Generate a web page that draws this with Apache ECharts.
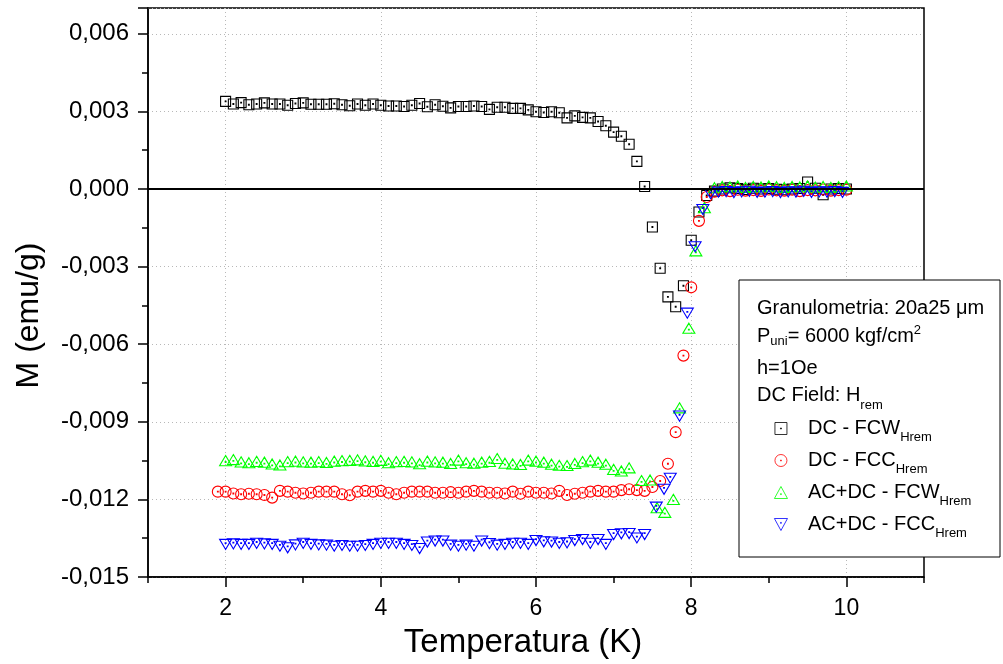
<!DOCTYPE html>
<html><head><meta charset="utf-8">
<script src="https://cdn.jsdelivr.net/npm/echarts@6/dist/echarts.min.js"></script>
<style>html,body{margin:0;padding:0;background:#fff}#c{width:1003px;height:664px}</style>
</head><body><div id="c"></div>
<script>
// ---------- DATA ----------
const tDcFcw = [2.0,2.1,2.2,2.3,2.4,2.5,2.6,2.7,2.8,2.9,3.0,3.1,3.2,3.3,3.4,3.5,3.6,3.7,3.8,3.9,4.0,4.1,4.2,4.3,4.4,4.5,4.6,4.7,4.8,4.9,5.0,5.1,5.2,5.3,5.4,5.5,5.6,5.7,5.8,5.9,6.0,6.1,6.2,6.3,6.4,6.5,6.6,6.7,6.8,6.9,7.0,7.1,7.2,7.3,7.4,7.5,7.6,7.7,7.8,7.9,8.0,8.1,8.2,8.3,8.4,8.5,8.6,8.7,8.8,8.9,9.0,9.1,9.2,9.3,9.4,9.5,9.6,9.7,9.8,9.9,10.0];
const mDcFcw = [0.00339,0.00329,0.00334,0.00326,0.00329,0.00333,0.00329,0.00329,0.00324,0.00331,
 0.00333,0.00328,0.00328,0.00328,0.00330,0.00326,0.00322,0.00329,0.00324,0.00329,
 0.00324,0.00321,0.00321,0.00319,0.00324,0.00331,0.00318,0.00326,0.00320,0.00314,
 0.00319,0.00319,0.00321,0.00319,0.00308,0.00316,0.00316,0.00312,0.00312,0.00306,
 0.00299,0.00296,0.00299,0.00295,0.00275,0.00283,0.00277,0.00275,0.00261,0.00245,
 0.00220,0.00204,0.00173,0.00107,0.00010,-0.00147,-0.00306,-0.00417,-0.00455,-0.00374,
 -0.00198,-0.00089,-0.00025,-0.00008,0.00000,0.00005,0.00002,-0.00002,0.00003,0.00000,
 0.00002,-0.00001,-0.00003,0.00000,0.00002,0.00027,0.00003,-0.00022,0.00000,0.00002,0.00000];

const tDcFcc = [1.9,2.0,2.1,2.2,2.3,2.4,2.5,2.6,2.7,2.8,2.9,3.0,3.1,3.2,3.3,3.4,3.5,3.6,3.7,3.8,3.9,4.0,4.1,4.2,4.3,4.4,4.5,4.6,4.7,4.8,4.9,5.0,5.1,5.2,5.3,5.4,5.5,5.6,5.7,5.8,5.9,6.0,6.1,6.2,6.3,6.4,6.5,6.6,6.7,6.8,6.9,7.0,7.1,7.2,7.3,7.4,7.5,7.6,7.7,7.8,7.9,8.0,8.1,8.2,8.3,8.4,8.5,8.6,8.7,8.8,8.9,9.0,9.1,9.2,9.3,9.4,9.5,9.6,9.7,9.8,9.9,10.0];
const mDcFcc = [-0.01170,-0.01170,-0.01177,-0.01180,-0.01178,-0.01180,-0.01183,-0.01193,-0.01167,-0.01170,
 -0.01174,-0.01177,-0.01174,-0.01170,-0.01170,-0.01170,-0.01180,-0.01184,-0.01170,-0.01167,
 -0.01170,-0.01167,-0.01174,-0.01180,-0.01174,-0.01170,-0.01170,-0.01170,-0.01174,-0.01174,
 -0.01172,-0.01174,-0.01170,-0.01167,-0.01170,-0.01174,-0.01174,-0.01177,-0.01170,-0.01178,
 -0.01170,-0.01174,-0.01174,-0.01177,-0.01167,-0.01183,-0.01178,-0.01174,-0.01170,-0.01167,
 -0.01170,-0.01170,-0.01164,-0.01161,-0.01164,-0.01167,-0.01152,-0.01129,-0.01062,-0.00940,
 -0.00644,-0.00380,-0.00123,-0.00031,-0.00010,-0.00005,-0.00008,-0.00003,-0.00006,-0.00004,
 -0.00007,-0.00002,-0.00005,-0.00006,-0.00003,-0.00008,-0.00004,-0.00005,-0.00002,-0.00006,-0.00004,-0.00003];

const tAcFcw = [2.0,2.1,2.2,2.3,2.4,2.5,2.6,2.7,2.8,2.9,3.0,3.1,3.2,3.3,3.4,3.5,3.6,3.7,3.8,3.9,4.0,4.1,4.2,4.3,4.4,4.5,4.6,4.7,4.8,4.9,5.0,5.1,5.2,5.3,5.4,5.5,5.6,5.7,5.8,5.9,6.0,6.1,6.2,6.3,6.4,6.5,6.6,6.7,6.8,6.9,7.0,7.1,7.2,
 7.36,7.47,7.56,7.66,7.77,7.85,7.97,8.06,8.17,
 8.3,8.4,8.5,8.6,8.7,8.8,8.9,9.0,9.1,9.2,9.3,9.4,9.5,9.6,9.7,9.8,9.9,10.0];
const mAcFcw = [-0.01050,-0.01046,-0.01055,-0.01058,-0.01053,-0.01056,-0.01063,-0.01067,-0.01054,-0.01052,
 -0.01055,-0.01056,-0.01054,-0.01057,-0.01052,-0.01050,-0.01049,-0.01047,-0.01051,-0.01053,
 -0.01049,-0.01058,-0.01054,-0.01053,-0.01055,-0.01062,-0.01052,-0.01055,-0.01056,-0.01061,
 -0.01048,-0.01058,-0.01060,-0.01056,-0.01053,-0.01042,-0.01060,-0.01063,-0.01065,-0.01048,
 -0.01052,-0.01056,-0.01064,-0.01068,-0.01069,-0.01061,-0.01054,-0.01048,-0.01056,-0.01064,
 -0.01084,-0.01090,-0.01078,
 -0.01127,-0.01125,-0.01232,-0.01250,-0.01200,-0.00846,-0.00538,-0.00239,-0.00072,
 0.00005,0.00010,0.00008,0.00012,0.00006,0.00010,0.00008,0.00012,0.00009,0.00006,0.00010,0.00008,0.00012,0.00007,0.00010,0.00006,0.00009,0.00012];

const tAcFcc = [2.0,2.1,2.2,2.3,2.4,2.5,2.6,2.7,2.8,2.9,3.0,3.1,3.2,3.3,3.4,3.5,3.6,3.7,3.8,3.9,4.0,4.1,4.2,4.3,4.4,4.5,4.6,4.7,4.8,4.9,5.0,5.1,5.2,5.3,5.4,5.5,5.6,5.7,5.8,5.9,6.0,6.1,6.2,6.3,6.4,6.5,6.6,6.7,6.8,6.9,7.0,7.1,7.2,7.3,7.4,
 7.55,7.65,7.73,7.85,7.95,8.05,8.15,
 8.25,8.35,8.45,8.55,8.65,8.75,8.85,8.95,9.05,9.15,9.25,9.35,9.45,9.55,9.65,9.75,9.85,9.95];
const mAcFcc = [-0.01374,-0.01372,-0.01374,-0.01374,-0.01370,-0.01372,-0.01374,-0.01381,-0.01387,-0.01376,
 -0.01370,-0.01374,-0.01376,-0.01377,-0.01381,-0.01378,-0.01381,-0.01381,-0.01378,-0.01374,
 -0.01370,-0.01370,-0.01370,-0.01374,-0.01378,-0.01390,-0.01365,-0.01361,-0.01361,-0.01377,
 -0.01381,-0.01377,-0.01381,-0.01361,-0.01371,-0.01377,-0.01374,-0.01370,-0.01370,-0.01374,
 -0.01359,-0.01364,-0.01365,-0.01370,-0.01368,-0.01359,-0.01355,-0.01370,-0.01355,-0.01374,
 -0.01336,-0.01333,-0.01332,-0.01349,-0.01336,
 -0.01230,-0.01161,-0.01118,-0.00878,-0.00480,-0.00223,-0.00079,
 -0.00018,-0.00012,-0.00010,-0.00014,-0.00011,-0.00009,-0.00013,-0.00012,-0.00010,-0.00014,-0.00011,-0.00012,-0.00009,-0.00013,-0.00011,-0.00012,-0.00010,-0.00013];

const seriesNames = ['DC - FCW', 'DC - FCC', 'AC+DC - FCW', 'AC+DC - FCC'];
const xTickLabels = [2, 4, 6, 8, 10];
const yMaxLabel = 0.006;

// ---------- STYLE ----------
const FONT = '"Liberation Sans", Arial, sans-serif';
const SYM_SQUARE = 'path://M0,0L10,0L10,10L0,10Z M4.6,4.6L5.4,4.6L5.4,5.4L4.6,5.4Z';
const SYM_CIRCLE = 'path://M11,5.5A5.5,5.5,0,1,1,0,5.5A5.5,5.5,0,1,1,11,5.5Z M5.1,5.1L5.9,5.1L5.9,5.9L5.1,5.9Z';
const SYM_UP = 'path://M6,0L12,11L0,11Z M5.6,6.6L6.4,6.6L6.4,7.4L5.6,7.4Z';
const SYM_DOWN = 'path://M0,0L12,0L6,11Z M5.6,3.6L6.4,3.6L6.4,4.4L5.6,4.4Z';

function zip(t, m) { return t.map((v, i) => [v, m[i]]); }
function mkSeries(name, t, m, symbol, size, color) {
  return {
    name, type: 'scatter', xAxisIndex: 0, yAxisIndex: 0,
    data: zip(t, m), symbol, symbolSize: size, symbolKeepAspect: true,
    itemStyle: { color: 'rgba(0,0,0,0)', borderColor: color, borderWidth: 1.1, opacity: 1 },
    emphasis: { disabled: true }, silent: true, animation: false
  };
}

const chart = echarts.init(document.getElementById('c'), null, { renderer: 'canvas' });
const sBlack = mkSeries(seriesNames[0], tDcFcw, mDcFcw, SYM_SQUARE, [10, 10], '#000000');
sBlack.markLine = {
  silent: true, symbol: 'none', animation: false, label: { show: false },
  lineStyle: { color: '#000', type: 'solid', width: 2 }, data: [{ yAxis: 0 }]
};
const option = {
  backgroundColor: '#ffffff',
  animation: false,
  textStyle: { fontFamily: FONT },
  grid: { left: 148, right: 79, top: 8, bottom: 86, show: true, borderColor: '#000', borderWidth: 1.5 },
  xAxis: [{
    type: 'value', min: 1, max: 11, interval: 2,
    axisLine: { show: true, onZero: false, lineStyle: { color: '#000', width: 1.5 } },
    axisTick: { show: true, length: 6, lineStyle: { color: '#000', width: 1.5 } },
    minorTick: { show: true, splitNumber: 2, length: 10, lineStyle: { color: '#000', width: 1.5 } },
    axisLabel: { show: false },
    splitLine: { show: false },
    minorSplitLine: { show: true, lineStyle: { color: '#b8b8b8', width: 1, type: [1, 3] } },
    name: 'Temperatura (K)', nameLocation: 'middle', nameGap: 49,
    nameTextStyle: { fontSize: 33, color: '#000', fontFamily: FONT, padding: [0, 26, 0, 0] }
  }, {
    type: 'value', min: 1, max: 11, interval: 1, position: 'bottom', offset: 0,
    axisLine: { show: false }, axisTick: { show: false }, splitLine: { show: false },
    axisLabel: { show: true, fontSize: 23, color: '#000', fontFamily: FONT, margin: 20,
      formatter: v => xTickLabels.indexOf(Math.round(v)) >= 0 && Math.abs(v - Math.round(v)) < 1e-6 ? String(Math.round(v)) : '' }
  }],
  yAxis: [{
    type: 'value', min: -0.015, max: 0.007, interval: 0.003,
    axisLine: { show: true, onZero: false, lineStyle: { color: '#000', width: 1.5 } },
    axisTick: { show: true, length: 10, lineStyle: { color: '#000', width: 1.5 } },
    minorTick: { show: true, splitNumber: 2, length: 6, lineStyle: { color: '#000', width: 1.5 } },
    splitLine: { show: true, lineStyle: { color: '#b8b8b8', width: 1, type: [1, 3] } },
    axisLabel: { fontSize: 24, color: '#000', fontFamily: FONT, margin: 19, showMaxLabel: false,
      formatter: v => (v > yMaxLabel + 1e-9 ? '' : (Math.abs(v) < 1e-9 ? '0,000' : v.toFixed(3).replace('.', ','))) },
    name: 'M (emu/g)', nameLocation: 'middle', nameGap: 103,
    nameTextStyle: { fontSize: 32, color: '#000', fontFamily: FONT, padding: [0, 46, 0, 0] }
  }],
  legend: {
    show: true, orient: 'vertical', left: 774, top: 413, padding: 0, z: 60,
    itemWidth: 44, itemHeight: 12, itemGap: 1,
    selectedMode: false,
    itemStyle: { borderWidth: 0.8 },
    data: seriesNames,
    textStyle: { fontSize: 20, color: '#000', fontFamily: FONT, lineHeight: 20,
      rich: { s: { fontSize: 13, color: '#000', fontFamily: FONT, lineHeight: 20, padding: [18, 0, 0, 0] } } },
    formatter: name => name + '{s|Hrem}'
  },
  graphic: [
    { type: 'rect', z: 50, silent: true, shape: { x: 739, y: 280, width: 261, height: 277 },
      style: { fill: '#fff', stroke: '#000', lineWidth: 1 } },
    { type: 'text', z: 51, silent: true, x: 757, y: 308,
      style: { text: 'Granulometria: 20a25 μm', font: '20px "Liberation Sans"', fill: '#000', verticalAlign: 'middle' } },
    { type: 'text', z: 51, silent: true, x: 757, y: 336,
      style: { text: '{n|P}{s|uni}{n|= 6000 kgf/cm}{p|2}', font: '20px "Liberation Sans"', fill: '#000', verticalAlign: 'middle',
        rich: {
          n: { font: '20px "Liberation Sans"', lineHeight: 20, fill: '#000' },
          s: { font: '13px "Liberation Sans"', lineHeight: 20, fill: '#000', padding: [10, 0, 0, 0] },
          p: { font: '13px "Liberation Sans"', lineHeight: 20, fill: '#000', padding: [0, 0, 12, 0] }
        } } },
    { type: 'text', z: 51, silent: true, x: 757, y: 368,
      style: { text: 'h=1Oe', font: '20px "Liberation Sans"', fill: '#000', verticalAlign: 'middle' } },
    { type: 'text', z: 51, silent: true, x: 757, y: 395,
      style: { text: '{n|DC Field: H}{s|rem}', font: '20px "Liberation Sans"', fill: '#000', verticalAlign: 'middle',
        rich: {
          n: { font: '20px "Liberation Sans"', lineHeight: 20, fill: '#000' },
          s: { font: '13px "Liberation Sans"', lineHeight: 20, fill: '#000', padding: [21, 0, 0, 0] }
        } } }
  ],
  series: [
    sBlack,
    mkSeries(seriesNames[1], tDcFcc, mDcFcc, SYM_CIRCLE, [11, 11], '#ff0000'),
    mkSeries(seriesNames[2], tAcFcw, mAcFcw, SYM_UP, [12, 11], '#00ff00'),
    mkSeries(seriesNames[3], tAcFcc, mAcFcc, SYM_DOWN, [12, 11], '#0000ff')
  ]
};
chart.setOption(option);
</script>
</body></html>
